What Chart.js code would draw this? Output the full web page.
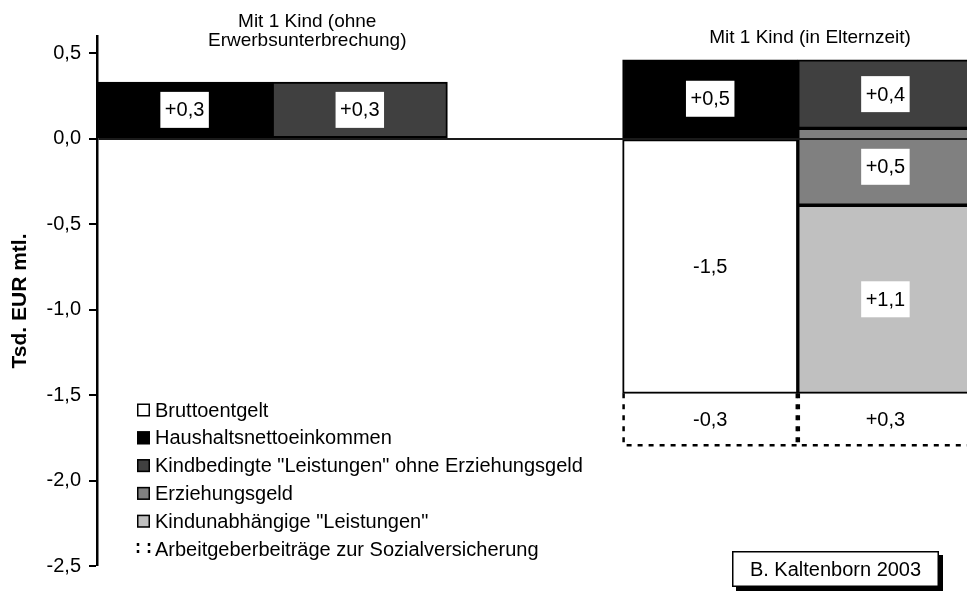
<!DOCTYPE html>
<html>
<head>
<meta charset="utf-8">
<script src="https://cdn.jsdelivr.net/npm/chart.js@4.4.1/dist/chart.umd.min.js"></script>
<style>
html,body{margin:0;padding:0;overflow:hidden;background:#fff;width:967px;height:591px;}
#wrap{position:relative;width:973px;height:591px;}
</style>
</head>
<body>
<div id="wrap"><canvas id="c"></canvas></div>
<script>
// ---- data ----
const categories = ['', '', '', '', ''];
const yTicks = [-2.5, -2.0, -1.5, -1.0, -0.5, 0.0, 0.5];

// floating bar ranges [low, high] in Tsd. EUR per month
const bruttoentgelt             = [null, null, null, [-1.49, 0], null];
const haushaltsnettoeinkommen   = [[0, 0.33], null, null, [0, 0.46], null];
const kindbedingteLeistungen    = [null, [0, 0.33], null, null, [0.06, 0.46]];
const erziehungsgeld            = [null, null, null, null, [-0.39, 0.06]];
const kindunabhaengigeLeistungen= [null, null, null, null, [-1.49, -0.39]];
const arbeitgeberbeitraege      = [null, null, null, [-1.80, -1.49], [-1.80, -1.49]];

// value labels shown in the bars
const bruttoLabels        = [null, null, null, '-1,5', null];
const nettoLabels         = ['+0,3', null, null, '+0,5', null];
const kindbedingteLabels  = [null, '+0,3', null, null, '+0,4'];
const erziehungsLabels    = [null, null, null, null, '+0,5'];
const kindunabhLabels     = [null, null, null, null, '+1,1'];
const arbeitgeberLabels   = [null, null, null, '-0,3', '+0,3'];

const seriesNames = [
  'Bruttoentgelt',
  'Haushaltsnettoeinkommen',
  'Kindbedingte "Leistungen" ohne Erziehungsgeld',
  'Erziehungsgeld',
  'Kindunabhängige "Leistungen"',
  'Arbeitgeberbeiträge zur Sozialversicherung'
];
const groupTitles = [
  { lines: ['Mit 1 Kind (ohne', 'Erwerbsunterbrechung)'], at: 0.7 },
  { lines: ['Mit 1 Kind (in Elternzeit)'], at: 3.57 }
];
const yTitle = 'Tsd. EUR mtl.';
const credit = 'B. Kaltenborn 2003';

// ---- styling ----
const FONT = '"Liberation Sans", Arial, sans-serif';
const seriesData = [bruttoentgelt, haushaltsnettoeinkommen, kindbedingteLeistungen, erziehungsgeld, kindunabhaengigeLeistungen, arbeitgeberbeitraege];
const seriesLabels = [bruttoLabels, nettoLabels, kindbedingteLabels, erziehungsLabels, kindunabhLabels, arbeitgeberLabels];
const seriesColors = ['#ffffff', '#000000', '#404040', '#808080', '#c0c0c0', '#ffffff'];
const dashedSeries = 5;

const datasets = seriesNames.map((name, i) => ({
  label: name,
  data: seriesData[i],
  backgroundColor: seriesColors[i],
  borderColor: '#000000',
  borderWidth: i === dashedSeries ? 0 : 2,
  borderSkipped: false,
  grouped: false,
  barPercentage: 1,
  categoryPercentage: 1
}));

const decor = {
  id: 'decor',
  afterDraw(chart) {
    const ctx = chart.ctx;
    const xs = chart.scales.x;
    const area = chart.chartArea;
    ctx.save();

    // dashed outlines
    const dm = chart.getDatasetMeta(dashedSeries);
    ctx.strokeStyle = '#000';
    ctx.lineWidth = 2.5;
    ctx.setLineDash([5, 6]);
    dm.data.forEach((el, j) => {
      if (!seriesData[dashedSeries][j]) return;
      const p = el.getProps(['x', 'y', 'base', 'width'], true);
      const left = p.x - p.width / 2;
      const top = Math.min(p.y, p.base);
      const h = Math.abs(p.base - p.y);
      ctx.beginPath();
      ctx.moveTo(left + 1, top);
      ctx.lineTo(left + 1, top + h - 1);
      ctx.lineTo(left + p.width, top + h - 1);
      ctx.moveTo(left + p.width - 1, top);
      ctx.lineTo(left + p.width - 1, top + h - 1);
      ctx.stroke();
    });
    ctx.setLineDash([]);

    // value labels
    ctx.font = '20px ' + FONT;
    ctx.textAlign = 'center';
    ctx.textBaseline = 'middle';
    seriesLabels.forEach((labs, i) => {
      const meta = chart.getDatasetMeta(i);
      labs.forEach((t, j) => {
        if (!t) return;
        const p = meta.data[j].getProps(['x', 'y', 'base'], true);
        const cy = (p.y + p.base) / 2;
        const w = ctx.measureText(t).width + 9;
        ctx.fillStyle = '#ffffff';
        ctx.fillRect(p.x - w / 2, cy - 18, w, 36);
        ctx.fillStyle = '#000000';
        ctx.fillText(t, p.x, cy + 1);
      });
    });

    // group titles
    ctx.font = '19px ' + FONT;
    ctx.fillStyle = '#000';
    groupTitles.forEach((g) => {
      const x = xs.getPixelForValue(g.at);
      if (g.lines.length === 2) {
        ctx.fillText(g.lines[0], x, area.top - 14);
        ctx.fillText(g.lines[1], x, area.top + 5);
      } else {
        ctx.fillText(g.lines[0], x, area.top + 2);
      }
    });

    // legend
    ctx.font = '20px ' + FONT;
    ctx.textAlign = 'left';
    const lx = area.left + 40, ly0 = area.top + 374, step = 27.8;
    seriesNames.forEach((name, i) => {
      const y = ly0 + i * step;
      if (i === dashedSeries) {
        ctx.strokeStyle = '#000';
        ctx.lineWidth = 2.5;
        ctx.setLineDash([3, 4]);
        ctx.beginPath();
        ctx.moveTo(lx + 1, y - 6); ctx.lineTo(lx + 1, y + 7);
        ctx.moveTo(lx + 12, y - 6); ctx.lineTo(lx + 12, y + 7);
        ctx.stroke();
        ctx.setLineDash([]);
      } else {
        ctx.fillStyle = seriesColors[i];
        ctx.fillRect(lx, y - 6.5, 13, 13);
        ctx.strokeStyle = '#000';
        ctx.lineWidth = 1.5;
        ctx.strokeRect(lx + 0.75, y - 5.75, 11.5, 11.5);
      }
      ctx.fillStyle = '#000';
      ctx.fillText(name, lx + 18, y + 1);
    });

    // credit box with shadow
    const bx = 732, by = 551, bw = 207, bh = 36;
    ctx.fillStyle = '#000';
    ctx.fillRect(bx + 4, by + 4, bw, bh);
    ctx.fillStyle = '#fff';
    ctx.fillRect(bx, by, bw, bh);
    ctx.strokeStyle = '#000';
    ctx.lineWidth = 1.5;
    ctx.strokeRect(bx + 0.75, by + 0.75, bw - 1.5, bh - 1.5);
    ctx.fillStyle = '#000';
    ctx.textAlign = 'center';
    ctx.fillText(credit, bx + bw / 2, by + bh / 2 + 1);
    ctx.restore();
  }
};

new Chart(document.getElementById('c'), {
  type: 'bar',
  data: { labels: categories, datasets },
  options: {
    responsive: true,
    maintainAspectRatio: false,
    animation: false,
    layout: { padding: { top: 36, bottom: 25, left: 0, right: 0 } },
    plugins: { legend: { display: false }, tooltip: { enabled: false } },
    scales: {
      x: { display: false, offset: true },
      y: {
        min: -2.5, max: 0.6,
        afterFit(s) { s.width = 97; },
        afterBuildTicks(s) { s.ticks = yTicks.map(v => ({ value: v })); },
        ticks: {
          color: '#000',
          font: { family: FONT, size: 20 },
          padding: 8,
          callback: v => Number(v).toFixed(1).replace('.', ',')
        },
        grid: {
          z: 1,
          drawOnChartArea: true,
          color: c => (c.tick && c.tick.value === 0) ? '#1a1a1a' : 'rgba(0,0,0,0)',
          lineWidth: c => (c.tick && c.tick.value === 0) ? 2 : 0,
          tickColor: '#000',
          tickLength: 8,
          tickWidth: 2
        },
        border: { display: true, color: '#000', width: 2.5, z: 2 },
        title: {
          display: true,
          text: yTitle,
          color: '#000',
          font: { family: FONT, size: 21, weight: 'bold' },
          padding: { top: 8, bottom: 0 }
        }
      }
    }
  },
  plugins: [decor]
});
</script>
</body>
</html>
